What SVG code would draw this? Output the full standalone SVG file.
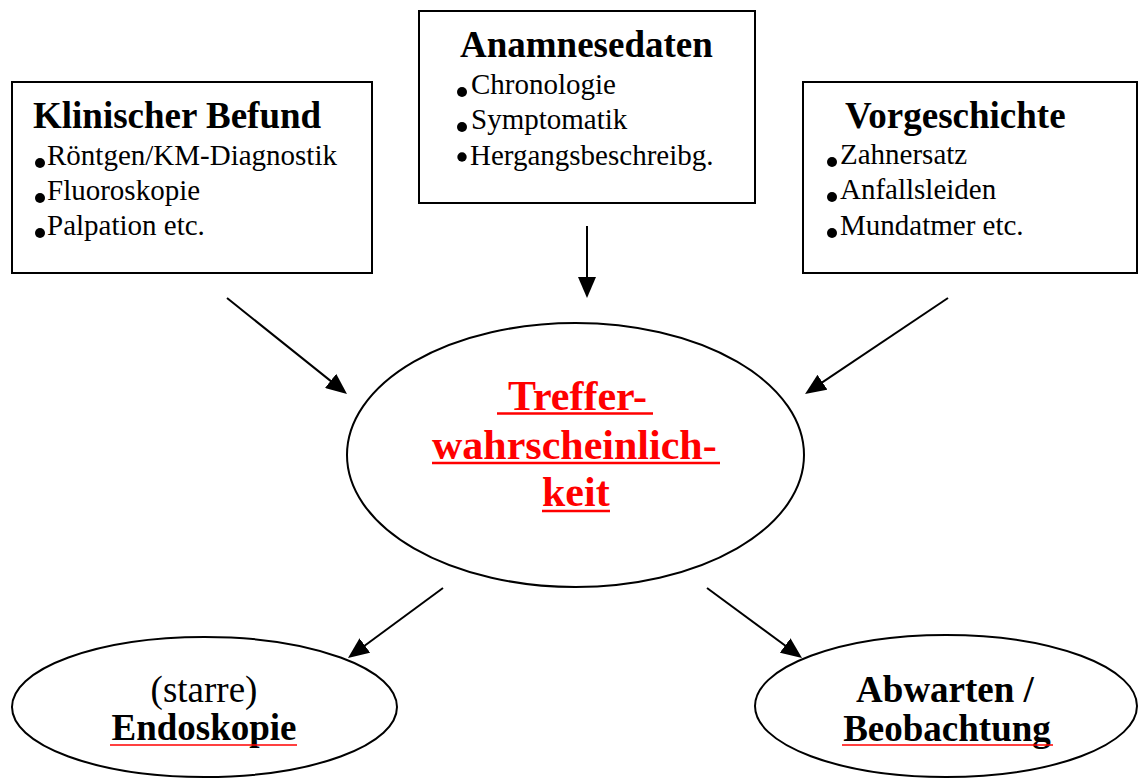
<svg xmlns="http://www.w3.org/2000/svg" width="1138" height="778" viewBox="0 0 1138 778">
<defs>
<style>
.box{fill:#fff;stroke:#000;stroke-width:2}
.ell{fill:#fff;stroke:#000;stroke-width:2}
.title{font-family:"Liberation Serif","Times New Roman",serif;font-weight:bold;font-size:37px;fill:#000}
.item{font-family:"Liberation Serif","Times New Roman",serif;font-size:29px;fill:#000}
.big{font-family:"Liberation Serif","Times New Roman",serif;font-weight:bold;font-size:42px;fill:#ff0000}
.reg37{font-family:"Liberation Serif","Times New Roman",serif;font-size:37px;fill:#000}
.bold37{font-family:"Liberation Serif","Times New Roman",serif;font-weight:bold;font-size:37px;fill:#000}
.conn{stroke:#000;stroke-width:2;fill:none;marker-end:url(#ah)}
.ul{stroke:#ff0000;stroke-width:2.5}
.ulthin{stroke:#ff0000;stroke-width:1.5}
</style>
<marker id="ah" viewBox="0 0 21 18" refX="16" refY="9" markerWidth="21" markerHeight="18" markerUnits="userSpaceOnUse" orient="auto">
<path d="M0,0 L21,9 L0,18 z" fill="#000"/>
</marker>
</defs>
<rect width="1138" height="778" fill="#fff"/>

<g id="klinischer-befund">
<rect class="box" x="12" y="82" width="360" height="191"/>
<text class="title" x="33" y="128">Klinischer Befund</text>
<circle cx="40" cy="163" r="5"/>
<text class="item" x="47" y="165">Röntgen/KM-Diagnostik</text>
<circle cx="40" cy="198" r="5"/>
<text class="item" x="47" y="200">Fluoroskopie</text>
<circle cx="40" cy="233" r="5"/>
<text class="item" x="47" y="235">Palpation etc.</text>
</g>

<g id="anamnesedaten">
<rect class="box" x="419" y="11" width="336" height="192"/>
<text class="title" x="460" y="57">Anamnesedaten</text>
<circle cx="462" cy="92" r="5"/>
<text class="item" x="471" y="94">Chronologie</text>
<circle cx="462" cy="127" r="5"/>
<text class="item" x="471" y="129">Symptomatik</text>
<circle cx="462" cy="157" r="4.7"/>
<text class="item" x="470" y="165">Hergangsbeschreibg.</text>
</g>

<g id="vorgeschichte">
<rect class="box" x="803" y="82" width="334" height="191"/>
<text class="title" x="845" y="128">Vorgeschichte</text>
<circle cx="832" cy="162" r="5"/>
<text class="item" x="840" y="164">Zahnersatz</text>
<circle cx="832" cy="197" r="5"/>
<text class="item" x="840" y="199">Anfallsleiden</text>
<circle cx="832" cy="233" r="5"/>
<text class="item" x="840" y="235">Mundatmer etc.</text>
</g>

<g id="trefferwahrscheinlichkeit">
<ellipse class="ell" cx="575.5" cy="455" rx="228.5" ry="132"/>
<text class="big" x="508" y="410">Treffer-</text>
<line class="ul" x1="497" y1="413.5" x2="653" y2="413.5"/>
<text class="big" x="432" y="459">wahrscheinlich-</text>
<line class="ul" x1="432" y1="463" x2="720" y2="463"/>
<text class="big" x="542" y="506">keit</text>
<line class="ul" x1="542" y1="511" x2="610" y2="511"/>
</g>

<g id="endoskopie">
<ellipse class="ell" cx="204.5" cy="707" rx="192.5" ry="70"/>
<text class="reg37" x="204" y="702" text-anchor="middle">(starre)</text>
<text class="bold37" x="204" y="740" text-anchor="middle">Endoskopie</text>
<line class="ulthin" x1="110" y1="745" x2="297" y2="745"/>
</g>

<g id="abwarten">
<ellipse class="ell" cx="946" cy="706" rx="191" ry="71"/>
<text class="bold37" x="945" y="702" text-anchor="middle">Abwarten /</text>
<text class="bold37" x="947" y="741" text-anchor="middle">Beobachtung</text>
<line class="ulthin" x1="842" y1="745" x2="1053" y2="745"/>
</g>

<g id="connectors">
<line class="conn" x1="227" y1="298" x2="343.1" y2="390.9"/>
<line class="conn" x1="587" y1="226" x2="587" y2="293"/>
<line class="conn" x1="948" y1="298" x2="809.2" y2="391.2"/>
<line class="conn" x1="443" y1="588" x2="352" y2="655"/>
<line class="conn" x1="707" y1="588" x2="798" y2="655"/>
</g>
</svg>
